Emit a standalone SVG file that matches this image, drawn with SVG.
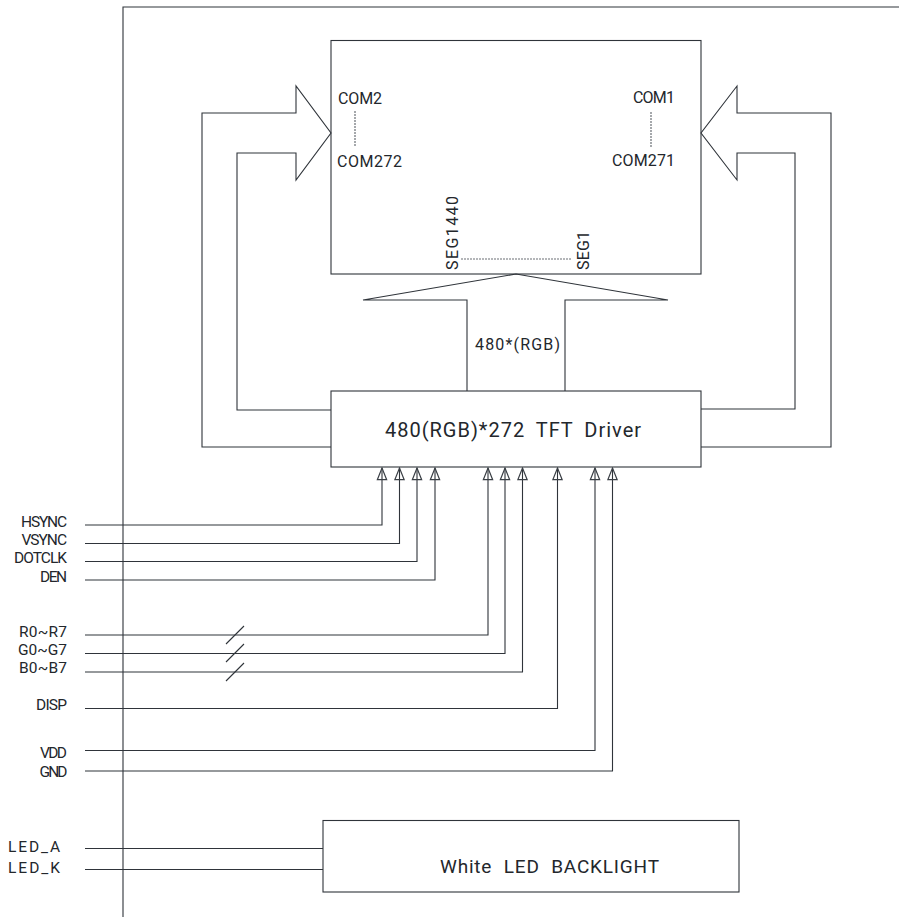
<svg xmlns="http://www.w3.org/2000/svg" width="899" height="919" viewBox="0 0 899 919">
<defs>
<marker id="ah" markerUnits="userSpaceOnUse" markerWidth="12" markerHeight="14" refX="5" refY="1" orient="0" viewBox="0 0 10 12"><path d="M5 1 L9 11 L1 11 Z" fill="none" stroke="#3a3f45" stroke-width="1"/></marker>
</defs>
<style>
.l{fill:none;stroke:#2f343a;stroke-width:1.1}
.d{fill:none;stroke:#6a6f75;stroke-width:1.2;stroke-dasharray:2 1}
text{font-family:"Roboto","Liberation Sans",sans-serif;fill:#23272c;font-size:16px;font-weight:400}
.s{font-size:15.500px}
</style>
<rect width="899" height="919" fill="#fff"/>
<g id="frame"><path class="l" d="M123 917V7H899"/></g>
<g id="lcd">
<rect class="l" x="331" y="40.500" width="370" height="233.500"/>
<text x="338" y="104" textLength="44">COM2</text>
<text x="337" y="166.500" textLength="65">COM272</text>
<text x="633" y="102.500" textLength="42">COM1</text>
<text x="612" y="165.500" textLength="63">COM271</text>
<path class="d" d="M355 111V146M651 112V147M461 259H571"/>
<text transform="translate(457.500 270) rotate(-90)" textLength="74">SEG1440</text>
<text transform="translate(588.500 270) rotate(-90)" textLength="39">SEG1</text>
</g>
<g id="driver">
<rect class="l" x="331" y="391" width="370" height="76"/>
<text x="385" y="437" textLength="256" style="font-size:20px;word-spacing:5px">480(RGB)*272 TFT Driver</text>
</g>
<g id="backlight">
<rect class="l" x="323" y="820.500" width="416" height="71.500"/>
<text x="440" y="872.500" textLength="219" style="font-size:19px;word-spacing:6px">White LED BACKLIGHT</text>
</g>
<g id="connectors">
<path class="l" d="M331 410H237V153H296V180L331 133L296 86V113H202V447H331"/>
<path class="l" d="M701 409H795V153H737V180L701 133L737 86V113H831V447H701"/>
<path class="l" d="M467 391V300H363L516 274L668 300H565V391"/>
<path class="l" marker-end="url(#ah)" d="M85 525H382V468"/>
<path class="l" marker-end="url(#ah)" d="M85 543.500H399.500V468"/>
<path class="l" marker-end="url(#ah)" d="M85 561.500H417V468"/>
<path class="l" marker-end="url(#ah)" d="M85 580H435V468"/>
<path class="l" marker-end="url(#ah)" d="M85 635H488V468"/>
<path class="l" marker-end="url(#ah)" d="M85 653.500H505V468"/>
<path class="l" marker-end="url(#ah)" d="M85 672H522.500V468"/>
<path class="l" marker-end="url(#ah)" d="M85 708.500H557.500V468"/>
<path class="l" marker-end="url(#ah)" d="M85 750.500H595V468"/>
<path class="l" marker-end="url(#ah)" d="M85 771H612.500V468"/>
<path class="l" d="M226 644L244 626M226 662L244 644M226 681L244 663"/>
<path class="l" d="M85 848.500H323M85 869.500H323"/>
</g>
<g id="labels">
<text class="s" x="21" y="527" textLength="46">HSYNC</text>
<text class="s" x="21.500" y="545" textLength="45.500">VSYNC</text>
<text class="s" x="14" y="563" textLength="53">DOTCLK</text>
<text class="s" x="40" y="581.500" textLength="27">DEN</text>
<text class="s" x="19" y="637" textLength="48">R0~R7</text>
<text class="s" x="18" y="655" textLength="49">G0~G7</text>
<text class="s" x="19" y="673" textLength="48">B0~B7</text>
<text class="s" x="36" y="710" textLength="31">DISP</text>
<text class="s" x="40" y="758" textLength="27">VDD</text>
<text class="s" x="39.500" y="776.500" textLength="28">GND</text>
<text class="s" x="8" y="851.500" textLength="52">LED_A</text>
<text class="s" x="8" y="872.500" textLength="52">LED_K</text>
<text x="475" y="350" textLength="85">480*(RGB)</text>
</g>
</svg>
